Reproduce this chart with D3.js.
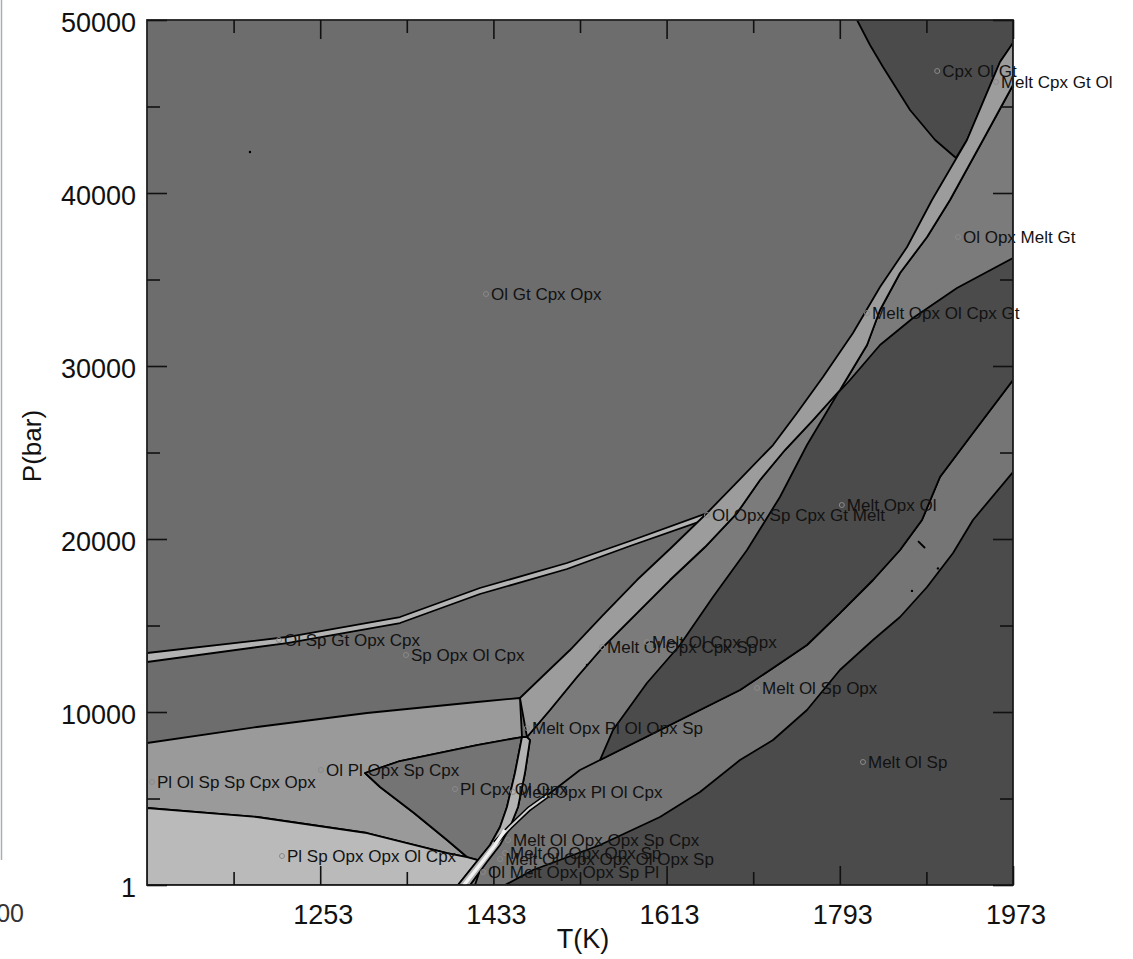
<html>
<head>
<script src="https://d3js.org/d3.v7.min.js"></script>
<style>
  body { margin: 0; background: #fff; }
  text { font-family: "Liberation Sans", Arial, sans-serif; }
</style>
</head>
<body>
<svg width="1133" height="959"></svg>
<script>
// axis ticks
const xMajor = [1253, 1433, 1613, 1793, 1973];
const xMinor = [1163, 1343, 1523, 1703, 1883];
const yMajor = [1, 10000, 20000, 30000, 40000, 50000];
const yMinor = [5000, 15000, 25000, 35000, 45000];

// phase boundaries, [T (K), P (bar)]
const spinelTop = [[1073,13410],[1218.5,14335],[1336,15491],[1419,17168],[1509.5,18613],[1575,19884],[1660,21600]];
const spinelBottom = [[1073,12890],[1218.5,13988],[1336,15144],[1419,16821],[1509.5,18266],[1575,19595],[1660,21250]];
const solidusLeft = [[1973,48670],[1959.5,47572],[1925.2,43063],[1888.8,39595],[1862.9,36878],[1834.8,34566],[1806.7,31907],[1775.5,29364],[1748.5,27283],[1723.6,25433],[1689.3,23468],[1655,21503],[1618.6,19537],[1582.2,17630],[1546.9,15607],[1512.6,13584],[1488.7,12312],[1460.6,10809]];
const solidusRight = [[1973,46242],[1941.8,43063],[1907.5,39595],[1883.7,37456],[1855.6,35375],[1834.8,33237],[1821.3,31214],[1793.2,28612],[1765.2,26878],[1736,25144],[1710.1,23410],[1686.2,21503],[1652.9,19537],[1616.5,17630],[1582.2,15722],[1546.9,13757],[1519.9,12023],[1491.8,10116],[1467.9,8555]];
const plagLeft = [[1462.7,8555],[1455.4,6474],[1447.1,4509],[1439.9,3353],[1429.5,2312],[1417,1445],[1396.2,1]];
const plagRight = [[1467.9,8555],[1471,8381],[1465.8,6474],[1458.6,4509],[1450.3,3353],[1439.9,2312],[1426.3,1329],[1408.7,1]];
const plagCore = [[1445.1,3179],[1434.7,2312],[1421.2,1329],[1402.4,1]];
const opxSliver = [[1434.7,2428],[1450.3,3353],[1470,4400],[1490,5200]];
const ellipseLeft = [[1543.8,7225],[1557.3,8959],[1592.6,11676],[1626.9,13873],[1661.2,16647],[1696.6,19364],[1730.8,22428],[1758.9,25433],[1791.1,28439]];
const ellipseTop = [[1803.6,29191],[1834.8,31214],[1869.1,32774],[1914.8,34508],[1973,36243]];
const opxOutUpper = [[1973,29191],[1931.4,26127],[1897.1,23584],[1878.4,21098],[1855.6,19364],[1827.5,17630],[1793.1,15722],[1758.9,13873],[1723.6,12543],[1689.3,11272],[1647.7,10116],[1606.1,8959],[1543.8,7225]];
const opxOutLower = [[1523,6647],[1486.6,5087],[1450.3,3353],[1434.7,2428],[1419.1,867],[1413.9,1]];
const cpxOut = [[1973,23873],[1931.4,21098],[1910.7,19191],[1883.7,17225],[1855.6,15491],[1827.5,14162],[1793.1,12428],[1758.9,10116],[1723.6,8381],[1689.3,7225],[1647.7,5376],[1606.1,3931],[1543.8,2312],[1474.2,867],[1445.1,1]];
const garnetCap = [[1810.9,50000],[1824.4,48555],[1837.9,47283],[1866,44797],[1892.1,43063],[1913.8,42023],[1925.2,43063],[1959.5,47572],[1973,48670],[1973,50000]];
const spinelOut = [[1073,8208],[1187.3,9133],[1301.6,9942],[1416,10578],[1460.6,10809]];
const wedgeTop = [[1299.6,6474],[1335.9,7168],[1416,8092],[1462.7,8555]];
const wedgeLeft = [[1299.6,6474],[1315.2,5665],[1350.5,4162],[1384.8,2601],[1405.6,1618]];
const plagOut = [[1073,4451],[1187.3,3931],[1301.6,3006],[1384.8,1850],[1405.6,1618],[1417,1445]];

// field labels: name, T, P
const fieldNames = ["Cpx Ol Gt","Melt Cpx Gt Ol","Ol Opx Melt Gt","Ol Gt Cpx Opx","Melt Opx Ol Cpx Gt","Ol Opx Sp Cpx Gt Melt","Melt Opx Ol","Ol Sp Gt Opx Cpx","Sp Opx Ol Cpx","Melt Ol Opx Cpx Sp","Melt Ol Cpx Opx","Melt Ol Sp Opx","Melt Opx Pl Ol Opx Sp","Ol Pl Opx Sp Cpx","Pl Ol Sp Sp Cpx Opx","Pl Cpx Ol Opx","Melt Opx Pl Ol Cpx","Melt Ol Sp","Melt Ol Opx Opx Sp Cpx","Melt Ol Opx Opx Sp","Melt Ol Opx Opx Ol Opx Sp","Ol Melt Opx Opx Sp Pl","Pl Sp Opx Opx Ol Cpx"];
const fieldT = [1894.2,1955.3,1915.8,1425.3,1821.3,1655,1795.1,1210.2,1342.2,1545.9,1592.6,1707,1467.9,1253.8,1078.2,1393.1,1453.4,1817.1,1448.2,1445.1,1440,1422.2,1213.3];
const fieldP = [47052,46416,37456,34162,33063,21387,21965,14162,13295,13757,14046,11387,9075,6647,5954,5549,5376,7110,2601,1850,1500,751,1676];

const specks = [[1180,42370],[1530.3,12717],[1868,17000],[1895,18300]];
const streak = [[1874.3,19884],[1881.6,19480]];

const svg = d3.select("svg");
const pL = 147, pR = 1013, pT = 20, pB = 885;
const x = d3.scaleLinear().domain([1073,1973]).range([pL,pR]);
const y = d3.scaleLinear().domain([1,50000]).range([pB,pT]);

svg.append("defs").append("clipPath").attr("id","plot")
  .append("rect").attr("x",pL).attr("y",pT).attr("width",pR-pL).attr("height",pB-pT);

const g = svg.append("g").attr("clip-path","url(#plot)");
const line = d3.line().x(d => x(d[0])).y(d => y(d[1]));

g.append("rect").attr("x",pL).attr("y",pT).attr("width",pR-pL).attr("height",pB-pT)
  .attr("fill","#6d6d6d");

const rev = a => a.slice().reverse();
const regions = [
  {pts: spinelTop.concat(rev(spinelBottom)), fill: "#b3b3b3"},
  {pts: solidusRight.concat(plagRight.slice(1), [[1973,1]]), fill: "#7b7b7b"},
  {pts: opxOutUpper.concat(opxOutLower, [[1973,1]]), fill: "#757575"},
  {pts: cpxOut.concat([[1973,1]]), fill: "#4b4b4b"},
  {pts: ellipseLeft.concat(ellipseTop, opxOutUpper.slice(0,-1)), fill: "#4b4b4b"},
  {pts: garnetCap, fill: "#4b4b4b"},
  {pts: solidusLeft.concat(rev(solidusRight)), fill: "#9c9c9c"},
  {pts: spinelOut.concat([[1462.7,8555]], rev(wedgeTop).slice(1), wedgeLeft.slice(1), rev(plagOut).slice(2)), fill: "#9a9a9a"},
  {pts: wedgeTop.concat(plagLeft.slice(1,-1), rev(wedgeLeft).slice(0,-1)), fill: "#747474"},
  {pts: plagOut.concat([[1396.2,1],[1073,1]]), fill: "#bababa"},
  {pts: plagLeft.concat(rev(plagRight)), fill: "#b2b2b2"}
];

g.selectAll("path.region").data(regions).enter().append("path")
  .attr("class","region")
  .attr("d", d => line(d.pts) + "Z")
  .attr("fill", d => d.fill)
  .attr("stroke","#000")
  .attr("stroke-width",1.8)
  .attr("stroke-linejoin","round");

// bright thin slivers near the low-pressure tangle
g.append("path").attr("d", line(opxSliver)).attr("fill","none")
  .attr("stroke","#000").attr("stroke-width",5);
g.append("path").attr("d", line(opxSliver)).attr("fill","none")
  .attr("stroke","#d0d0d0").attr("stroke-width",2);
g.append("path").attr("d", line(plagCore)).attr("fill","none")
  .attr("stroke","#f0f0f0").attr("stroke-width",3.5);

g.selectAll("circle.speck").data(specks).enter().append("circle")
  .attr("cx", d => x(d[0])).attr("cy", d => y(d[1])).attr("r",1.2).attr("fill","#000");
g.append("path").attr("d", line(streak)).attr("stroke","#000").attr("stroke-width",1.8);

// labels
const labels = svg.append("g");
fieldNames.forEach(function(name, i) {
  labels.append("circle")
    .attr("cx", x(fieldT[i])).attr("cy", y(fieldP[i])).attr("r",2.5)
    .attr("fill","none").attr("stroke","#8a8a8a").attr("stroke-width",1);
  labels.append("text")
    .attr("x", x(fieldT[i]) + 5).attr("y", y(fieldP[i]) + 6)
    .attr("font-size","17px").attr("fill","#121212")
    .text(name);
});

// frame
svg.append("rect").attr("x",pL).attr("y",pT).attr("width",pR-pL).attr("height",pB-pT)
  .attr("fill","none").attr("stroke","#222").attr("stroke-width",1.8);

// ticks (inward)
function ticks(axis, vals, len, pos) {
  svg.append("g").attr("transform", pos)
    .call(axis.tickValues(vals).tickSizeInner(-len).tickSizeOuter(0).tickFormat(""))
    .call(s => s.select(".domain").remove())
    .call(s => s.selectAll("line").attr("stroke","#111").attr("stroke-width",1.6));
}
ticks(d3.axisBottom(x), xMajor, 19, "translate(0," + pB + ")");
ticks(d3.axisBottom(x), xMinor, 13, "translate(0," + pB + ")");
ticks(d3.axisTop(x), xMajor, 19, "translate(0," + pT + ")");
ticks(d3.axisTop(x), xMinor, 13, "translate(0," + pT + ")");
ticks(d3.axisLeft(y), yMajor, 20, "translate(" + pL + ",0)");
ticks(d3.axisLeft(y), yMinor, 13, "translate(" + pL + ",0)");
ticks(d3.axisRight(y), yMajor, 20, "translate(" + pR + ",0)");
ticks(d3.axisRight(y), yMinor, 13, "translate(" + pR + ",0)");

// tick labels
svg.append("g").selectAll("text").data(xMajor).enter().append("text")
  .attr("x", d => x(d) + 3).attr("y", 924)
  .attr("text-anchor","middle").attr("font-size","27px").attr("fill","#111")
  .text(d => d);
svg.append("g").selectAll("text").data(yMajor).enter().append("text")
  .attr("x", 136).attr("y", d => y(d) + 12)
  .attr("text-anchor","end").attr("font-size","27px").attr("fill","#111")
  .text(d => d);

svg.append("text").attr("x",583).attr("y",948).attr("text-anchor","middle")
  .attr("font-size","27px").attr("fill","#111").text("T(K)");
svg.append("text").attr("transform","translate(41,446) rotate(-90)").attr("text-anchor","middle")
  .attr("font-size","26px").attr("fill","#111").text("P(bar)");

// edge of neighbouring figure
svg.append("line").attr("x1",1.5).attr("y1",0).attr("x2",1.5).attr("y2",860)
  .attr("stroke","#a8aeb4").attr("stroke-width",1.5);
svg.append("text").attr("x",24).attr("y",922).attr("text-anchor","end")
  .attr("font-size","25px").attr("fill","#333").text("00");
</script>
</body>
</html>
